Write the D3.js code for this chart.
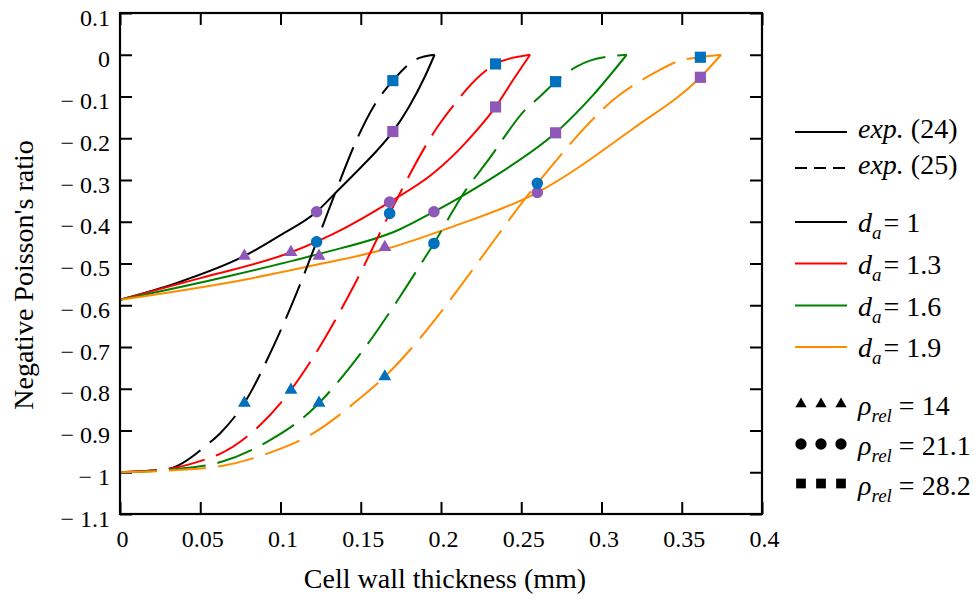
<!DOCTYPE html>
<html><head><meta charset="utf-8">
<script src="https://cdn.jsdelivr.net/npm/d3@7"></script>
<style>
body{margin:0;background:#fff}
svg{display:block}
text{font-family:"Liberation Serif","Times New Roman",serif;fill:#000;white-space:pre}
</style>
</head><body>
<svg id="chart" width="976" height="600"></svg>
<script>
// ---------- data ----------
const xTicks = [0, 0.05, 0.1, 0.15, 0.2, 0.25, 0.3, 0.35, 0.4];
const yTicks = [0.1, 0, -0.1, -0.2, -0.3, -0.4, -0.5, -0.6, -0.7, -0.8, -0.9, -1, -1.1];
const daValues = ["1", "1.3", "1.6", "1.9"];
const daColors = ["#000000", "#ff0000", "#008000", "#ff8c00"];
const expLabels = ["(24)", "(25)"];
const rhoLabels = ["14", "21.1", "28.2"];

// exp. (24) – solid curves
const solidX_d1  = [0, 0.035, 0.0775, 0.1, 0.1225, 0.134, 0.15, 0.16, 0.170, 0.18, 0.19, 0.196];
const solidY_d1  = [-0.587, -0.547, -0.482, -0.432, -0.376, -0.332, -0.270, -0.230, -0.184, -0.125, -0.052, 0];
const solidX_d13 = [0, 0.05, 0.1065, 0.14, 0.168, 0.1952, 0.216, 0.234, 0.245, 0.2555];
const solidY_d13 = [-0.587, -0.535, -0.473, -0.415, -0.353, -0.284, -0.208, -0.125, -0.060, 0];
const solidX_d16 = [0, 0.06, 0.124, 0.1745, 0.1956, 0.2129, 0.2368, 0.2714, 0.2949, 0.3157];
const solidY_d16 = [-0.587, -0.537, -0.477, -0.418, -0.376, -0.339, -0.283, -0.187, -0.096, 0];
const solidX_d19 = [0, 0.08, 0.12, 0.165, 0.2056, 0.26, 0.32, 0.3616, 0.3745];
const solidY_d19 = [-0.587, -0.537, -0.505, -0.466, -0.414, -0.330, -0.176, -0.054, 0];

// exp. (25) – dashed curves
const dashX_d1  = [0, 0.02, 0.0312, 0.054, 0.0623, 0.0775, 0.0955, 0.110, 0.1225, 0.134, 0.1485, 0.158, 0.170, 0.185, 0.196];
const dashY_d1  = [-1, -0.996, -0.991, -0.935, -0.907, -0.834, -0.699, -0.571, -0.448, -0.332, -0.195, -0.124, -0.062, -0.010, 0];
const dashX_d13 = [0, 0.03, 0.054, 0.0623, 0.0862, 0.1065, 0.118, 0.1475, 0.168, 0.1994, 0.2056, 0.2254, 0.234, 0.2555];
const dashY_d13 = [-1, -0.992, -0.968, -0.956, -0.891, -0.803, -0.739, -0.540, -0.380, -0.164, -0.132, -0.046, -0.022, 0];
const dashX_d16 = [0, 0.03, 0.0633, 0.0935, 0.1184, 0.124, 0.1516, 0.1745, 0.189, 0.1956, 0.2077, 0.2129, 0.2295, 0.2534, 0.2617, 0.2714, 0.2845, 0.2928, 0.3157];
const dashY_d16 = [-1, -0.994, -0.975, -0.923, -0.855, -0.834, -0.707, -0.579, -0.492, -0.452, -0.372, -0.339, -0.252, -0.128, -0.100, -0.0645, -0.0285, -0.014, 0];
const dashX_d19 = [0, 0.03, 0.0633, 0.0935, 0.1184, 0.1495, 0.165, 0.1869, 0.2118, 0.2347, 0.2534, 0.26, 0.2773, 0.2845, 0.3074, 0.3364, 0.3468, 0.3616, 0.3745];
const dashY_d19 = [-1, -0.996, -0.985, -0.953, -0.911, -0.823, -0.771, -0.679, -0.556, -0.436, -0.340, -0.308, -0.228, -0.196, -0.108, -0.0365, -0.0166, -0.006, 0];

// markers (rho_rel = 14, 21.1, 28.2) on each curve family
const rho14X   = [0.0775, 0.1065, 0.124, 0.165];
const rho14Y24 = [-0.482, -0.473, -0.482, -0.461];
const rho14Y25 = [-0.834, -0.803, -0.834, -0.771];
const rho21X   = [0.1225, 0.168, 0.1956, 0.26];
const rho21Y24 = [-0.376, -0.353, -0.376, -0.330];
const rho21Y25 = [-0.448, -0.380, -0.452, -0.308];
const rho28X   = [0.170, 0.234, 0.2714, 0.3616];
const rho28Y24 = [-0.184, -0.125, -0.187, -0.054];
const rho28Y25 = [-0.062, -0.022, -0.0645, -0.006];

// ---------- setup ----------
const svg = d3.select("#chart");
const L = 120, R = 762, T = 13, B = 514;
const x = d3.scaleLinear().domain([0, 0.4]).range([L, R]);
const y = d3.scaleLinear().domain([-1.1, 0.1]).range([B, T]);
const purple = "#8e58b8", blue = "#0071bc";

const fmt = v => {
  const s = String(+Math.abs(v).toFixed(2));
  return v < 0 ? "\u2212 " + s : s;
};

// axes with inward ticks
const ax = svg.append("g").attr("class", "axes");
const gB = ax.append("g").attr("transform", `translate(0,${B})`)
  .call(d3.axisBottom(x).tickValues(xTicks).tickSizeInner(-12).tickSizeOuter(0).tickPadding(16).tickFormat(fmt));
const gT = ax.append("g").attr("transform", `translate(0,${T})`)
  .call(d3.axisTop(x).tickValues(xTicks).tickSizeInner(-12).tickSizeOuter(0).tickFormat(""));
const gL = ax.append("g").attr("transform", `translate(${L},0)`)
  .call(d3.axisLeft(y).tickValues(yTicks).tickSizeInner(-12).tickSizeOuter(0).tickPadding(10).tickFormat(fmt));
const gR = ax.append("g").attr("transform", `translate(${R},0)`)
  .call(d3.axisRight(y).tickValues(yTicks).tickSizeInner(-12).tickSizeOuter(0).tickFormat(""));
[gB, gT, gL, gR].forEach(g => {
  g.select(".domain").remove();
  g.selectAll(".tick line").attr("stroke", "#000").attr("stroke-width", 2);
  g.selectAll("text").attr("font-family", '"Liberation Serif",serif').attr("font-size", 24).attr("fill", "#000");
});
gB.selectAll("text").attr("dx", 2);
gL.selectAll("text").attr("dy", "0.5em");

// plot lines
const line = d3.line().x(d => x(d[0])).y(d => y(d[1])).curve(d3.curveMonotoneX);
const zip = (a, b) => a.map((v, i) => [v, b[i]]);
const solids = [zip(solidX_d1, solidY_d1), zip(solidX_d13, solidY_d13), zip(solidX_d16, solidY_d16), zip(solidX_d19, solidY_d19)];
const dashes = [zip(dashX_d1, dashY_d1), zip(dashX_d13, dashY_d13), zip(dashX_d16, dashY_d16), zip(dashX_d19, dashY_d19)];

const gLines = svg.append("g");
solids.forEach((pts, i) => {
  gLines.append("path").attr("d", line(pts)).attr("fill", "none")
    .attr("stroke", daColors[i]).attr("stroke-width", 2);
});
dashes.forEach((pts, i) => {
  gLines.append("path").attr("d", line(pts)).attr("fill", "none")
    .attr("stroke", daColors[i]).attr("stroke-width", 2).attr("stroke-dasharray", "37,12");
});

// markers
const sym = {
  tri: d3.symbol().type(d3.symbolTriangle).size(72),
  cir: d3.symbol().type(d3.symbolCircle).size(105),
  sq: d3.symbol().type(d3.symbolSquare).size(125)
};
const gM = svg.append("g");
const drawMarkers = (xs, ys, s, color) => {
  xs.forEach((xv, i) => {
    gM.append("path").attr("d", s()).attr("fill", color)
      .attr("transform", `translate(${x(xv)},${y(ys[i])})`);
  });
};
drawMarkers(rho14X, rho14Y24, sym.tri, purple);
drawMarkers(rho14X, rho14Y25, sym.tri, blue);
drawMarkers(rho21X, rho21Y24, sym.cir, purple);
drawMarkers(rho21X, rho21Y25, sym.cir, blue);
drawMarkers(rho28X, rho28Y24, sym.sq, purple);
drawMarkers(rho28X, rho28Y25, sym.sq, blue);

// frame
svg.append("rect").attr("x", L).attr("y", T).attr("width", R - L).attr("height", B - T)
  .attr("fill", "none").attr("stroke", "#000").attr("stroke-width", 2.2);

// axis titles
svg.append("text").attr("x", 445).attr("y", 588).attr("text-anchor", "middle")
  .attr("font-size", 28).text("Cell wall thickness (mm)");
svg.append("text").attr("transform", "translate(33,275) rotate(-90)").attr("text-anchor", "middle")
  .attr("font-size", 28).text("Negative Poisson's ratio");

// legend
const lg = svg.append("g");
const lx0 = 795, lx1 = 847, tx = 858;
const expRows = [132, 168];
expLabels.forEach((lab, i) => {
  lg.append("line").attr("x1", lx0).attr("x2", lx1).attr("y1", expRows[i]).attr("y2", expRows[i])
    .attr("stroke", "#000").attr("stroke-width", 2).attr("stroke-dasharray", i === 1 ? "12,7" : null);
  const t = lg.append("text").attr("x", tx).attr("y", expRows[i] + 6).attr("font-size", 28);
  t.append("tspan").attr("font-style", "italic").text("exp.");
  t.append("tspan").text(" " + lab);
});
const daRows = [222, 263.5, 305.5, 347];
daValues.forEach((v, i) => {
  lg.append("line").attr("x1", lx0).attr("x2", lx1).attr("y1", daRows[i]).attr("y2", daRows[i])
    .attr("stroke", daColors[i]).attr("stroke-width", 2);
  const t = lg.append("text").attr("x", tx).attr("y", daRows[i] + 10).attr("font-size", 28);
  t.append("tspan").attr("font-style", "italic").text("d");
  t.append("tspan").attr("font-style", "italic").attr("font-size", 19).attr("dy", 7).text("a");
  t.append("tspan").attr("dy", -7).attr("dx", 2).text("= " + v);
});
const rhoRows = [404, 444, 483.5];
const legSize = [d3.symbol().type(d3.symbolTriangle).size(55), d3.symbol().type(d3.symbolCircle).size(100), d3.symbol().type(d3.symbolSquare).size(95)];
rhoLabels.forEach((v, i) => {
  [801, 821, 841].forEach(mx => {
    lg.append("path").attr("d", legSize[i]()).attr("fill", "#000")
      .attr("transform", `translate(${mx},${rhoRows[i]})`);
  });
  const t = lg.append("text").attr("x", tx).attr("y", rhoRows[i] + 11).attr("font-size", 28);
  t.append("tspan").attr("font-style", "italic").text("\u03C1");
  t.append("tspan").attr("font-style", "italic").attr("font-size", 19).attr("dy", 7).text("rel");
  t.append("tspan").attr("dy", -7).text(" = " + v);
});
</script>
</body></html>
